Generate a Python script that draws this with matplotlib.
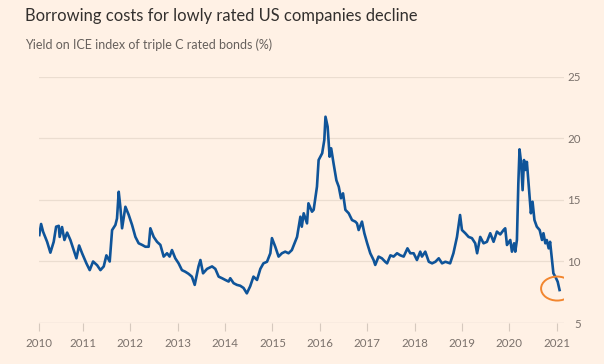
import matplotlib
matplotlib.use("Agg")
import matplotlib.pyplot as plt
from matplotlib.patches import Ellipse

plt.rcParams['font.family'] = ['Lato', 'DejaVu Sans']

years = [
    2010.08, 2010.118, 2010.16, 2010.245, 2010.314, 2010.384, 2010.435, 2010.49, 2010.51, 2010.56,
    2010.61, 2010.667, 2010.736, 2010.806, 2010.863, 2010.92, 2010.983, 2011.074, 2011.144, 2011.215,
    2011.30, 2011.37, 2011.44, 2011.496, 2011.566, 2011.616, 2011.686, 2011.72, 2011.756, 2011.79,
    2011.827, 2011.897, 2011.966, 2012.038, 2012.108, 2012.177, 2012.249, 2012.319, 2012.388, 2012.424,
    2012.494, 2012.565, 2012.635, 2012.705, 2012.776, 2012.83, 2012.88, 2012.95, 2013.02, 2013.09,
    2013.16, 2013.23, 2013.30, 2013.36, 2013.44, 2013.48, 2013.536, 2013.62, 2013.726, 2013.795,
    2013.865, 2013.937, 2014.006, 2014.076, 2014.11, 2014.18, 2014.25, 2014.32, 2014.39, 2014.46,
    2014.53, 2014.60, 2014.675, 2014.745, 2014.81, 2014.886, 2014.956, 2014.99, 2015.06, 2015.13,
    2015.20, 2015.27, 2015.34, 2015.41, 2015.48, 2015.52, 2015.59, 2015.62, 2015.66, 2015.73,
    2015.76, 2015.835, 2015.87, 2015.94, 2015.975, 2016.05, 2016.095, 2016.12, 2016.165, 2016.207,
    2016.24, 2016.29, 2016.35, 2016.40, 2016.447, 2016.49, 2016.54, 2016.61, 2016.68, 2016.75,
    2016.785, 2016.82, 2016.89, 2016.94, 2017.0, 2017.065, 2017.135, 2017.17, 2017.24, 2017.31,
    2017.38, 2017.42, 2017.49, 2017.557, 2017.63, 2017.70, 2017.77, 2017.85, 2017.91, 2017.98,
    2018.05, 2018.12, 2018.156, 2018.226, 2018.30, 2018.37, 2018.44, 2018.51, 2018.58, 2018.65,
    2018.75, 2018.82, 2018.895, 2018.96, 2019.0, 2019.07, 2019.14, 2019.21, 2019.28, 2019.32,
    2019.386, 2019.456, 2019.527, 2019.597, 2019.667, 2019.738, 2019.808, 2019.878, 2019.913, 2019.95,
    2020.02, 2020.055, 2020.10, 2020.125, 2020.16, 2020.19, 2020.215, 2020.25, 2020.28, 2020.31,
    2020.34, 2020.37, 2020.40, 2020.455, 2020.49, 2020.53, 2020.58, 2020.64, 2020.69, 2020.72,
    2020.76, 2020.79, 2020.83, 2020.86, 2020.90, 2020.93, 2020.97, 2021.02, 2021.06,
]
yields = [
    12.15, 13.05, 12.42, 11.6, 10.72, 11.6, 12.83, 12.9, 12.0, 12.8,
    11.75, 12.35, 11.75, 10.93, 10.26, 11.3, 10.67, 9.85, 9.3, 10.0,
    9.7, 9.3, 9.6, 10.5, 10.0, 12.55, 12.97, 13.5, 15.67, 14.45,
    12.7, 14.45, 13.8, 12.97, 12.0, 11.48, 11.35, 11.2, 11.2, 12.7,
    12.0, 11.6, 11.35, 10.4, 10.67, 10.4, 10.93, 10.26, 9.85, 9.3,
    9.17, 9.0, 8.77, 8.1, 9.6, 10.12, 9.04, 9.4, 9.6, 9.4,
    8.77, 8.64, 8.5, 8.37, 8.64, 8.24, 8.1, 8.03, 7.85, 7.41,
    7.98, 8.77, 8.5, 9.4, 9.85, 9.98, 10.67, 11.9, 11.2, 10.4,
    10.67, 10.8, 10.67, 10.93, 11.6, 12.0, 13.64, 12.83, 13.92, 13.1,
    14.73, 14.05, 14.2, 16.08, 18.25, 18.8, 19.88, 21.77, 20.96, 18.52,
    19.2, 17.98, 16.6, 16.08, 15.14, 15.54, 14.2, 13.92, 13.37, 13.24,
    13.1, 12.56, 13.24, 12.3, 11.48, 10.67, 10.12, 9.72, 10.4, 10.26,
    9.98, 9.85, 10.5, 10.4, 10.67, 10.5, 10.4, 11.07, 10.67, 10.67,
    10.12, 10.8, 10.4, 10.8, 9.98, 9.85, 9.98, 10.26, 9.85, 9.98,
    9.85, 10.67, 12.0, 13.78, 12.56, 12.3, 12.0, 11.9, 11.48, 10.67,
    12.0, 11.48, 11.6, 12.3, 11.6, 12.43, 12.2, 12.56, 12.7, 11.34,
    11.75, 10.8, 11.48, 10.8, 11.75, 16.36, 19.12, 17.98, 15.8, 18.25,
    17.44, 18.1, 16.6, 13.92, 14.86, 13.37, 12.83, 12.56, 11.75, 12.3,
    11.48, 11.75, 11.07, 11.6, 10.12, 9.04, 8.77, 8.36, 7.68,
]
year_ticks = [2010.08, 2011, 2012, 2013, 2014, 2015, 2016, 2017, 2018, 2019, 2020, 2021]
year_labels = ["2010", "2011", "2012", "2013", "2014", "2015", "2016", "2017", "2018", "2019", "2020", "2021"]
yield_ticks = [5, 10, 15, 20, 25]
yield_labels = ["5", "10", "15", "20", "25"]

title = "Borrowing costs for lowly rated US companies decline"
subtitle = "Yield on ICE index of triple C rated bonds (%)"

BG = "#FFF1E5"
W, H = 604, 364
fig = plt.figure(figsize=(W / 100, H / 100), dpi=100, facecolor=BG)
ax = fig.add_axes([39.3 / W, 41 / H, (564.3 - 39.3) / W, (323 - 77) / H])
ax.set_facecolor(BG)

ax.set_xlim(2010.08, 2021.16)
ax.set_ylim(5, 25)

for s in ax.spines.values():
    s.set_visible(False)

for v in yield_ticks[1:]:
    ax.axhline(v, color="#EBDDD0", lw=0.9, zorder=1)
ax.axhline(yield_ticks[0], color="#D6C9BE", lw=0.9, zorder=1)

ax.plot(years, yields, color="#0F5499", lw=1.9, solid_joinstyle="round", zorder=3)

ell = Ellipse((years[-1] - 0.05, yields[-1] + 0.12), width=0.68, height=1.95,
              fill=False, edgecolor="#F2862F", lw=1.4, zorder=4)
ax.add_patch(ell)

ax.set_xticks(year_ticks)
ax.set_xticklabels(year_labels)
ax.tick_params(axis="x", length=6, width=0.8, color="#D6C9BE", pad=4.5,
               labelsize=8.3, labelcolor="#7A716B")

ax.yaxis.tick_right()
ax.set_yticks(yield_ticks)
ax.set_yticklabels(yield_labels)
ax.tick_params(axis="y", length=0, pad=12, labelsize=8.3, labelcolor="#7A716B")
for lbl in ax.get_yticklabels():
    lbl.set_horizontalalignment("right")

fig.text(25 / W, 1 - 16 / H, title, va="center", ha="left", fontsize=11.9, color="#33302E")
fig.text(25 / W, 1 - 45 / H, subtitle, va="center", ha="left", fontsize=9.0, color="#66605C")

fig.savefig("out.png", dpi=100, facecolor=BG)
